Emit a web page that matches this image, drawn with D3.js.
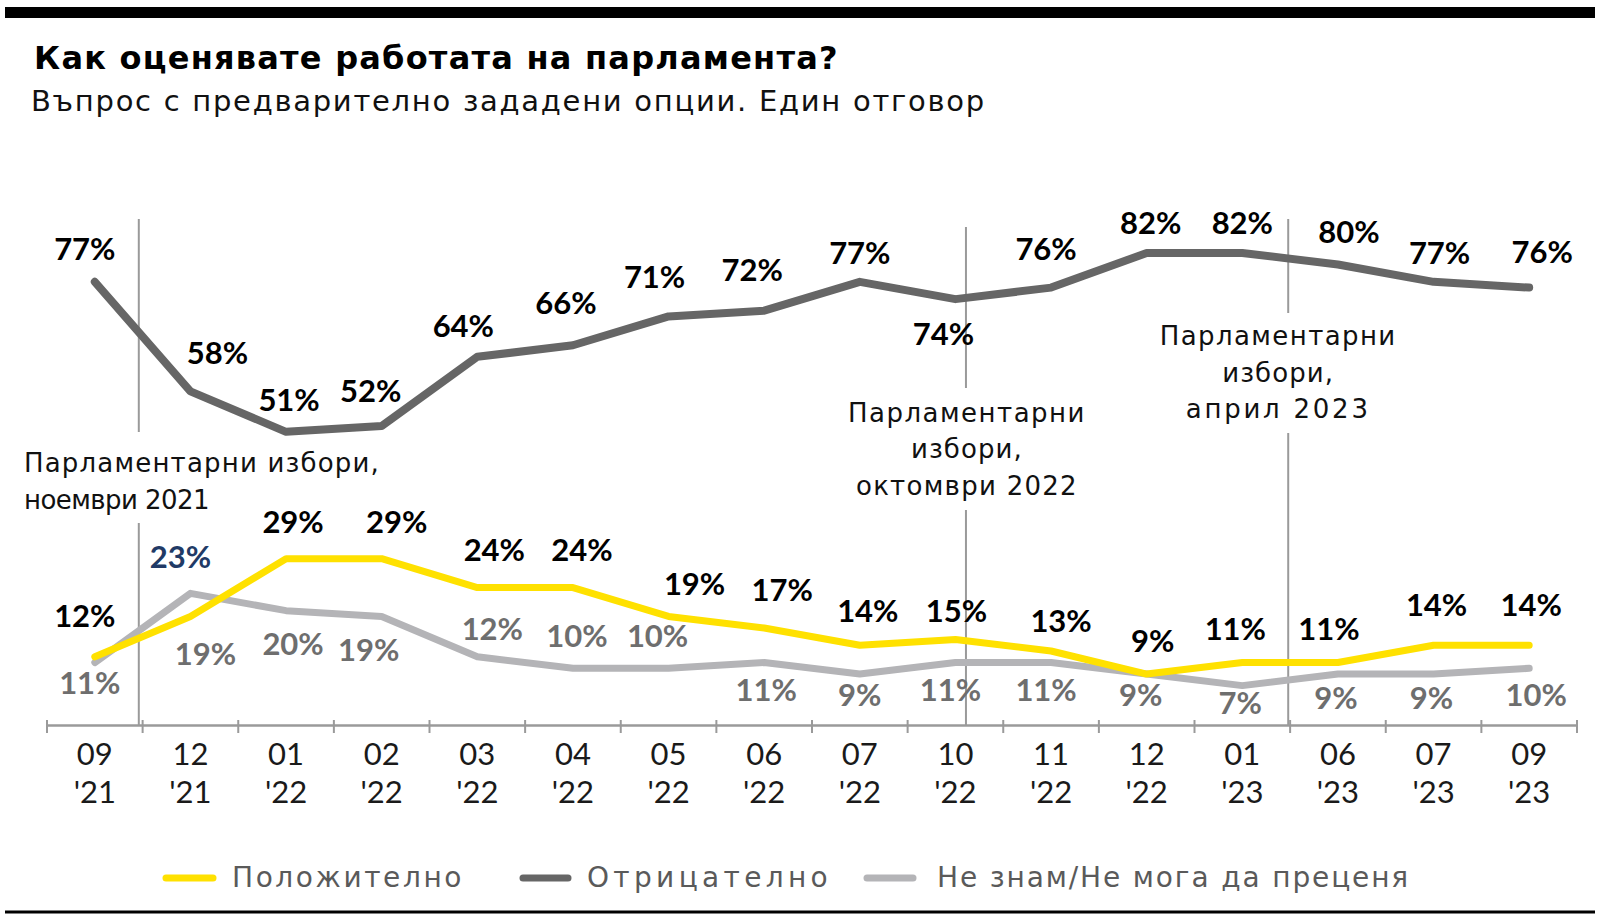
<!DOCTYPE html>
<html>
<head>
<meta charset="utf-8">
<script src="https://cdn.jsdelivr.net/npm/d3@7"></script>
<style>
  html, body { margin: 0; padding: 0; background: #fff; }
  svg { display: block; }
  text { font-family: Lato, "Noto Sans", sans-serif; }
  .wide { font-family: "DejaVu Sans", "Open Sans", sans-serif; }
</style>
</head>
<body>
<svg id="chart" width="1600" height="922"></svg>
<script>
// ---------- data ----------
const months = ["09", "12", "01", "02", "03", "04", "05", "06", "07", "10", "11", "12", "01", "06", "07", "09"];
const years  = ["'21", "'21", "'22", "'22", "'22", "'22", "'22", "'22", "'22", "'22", "'22", "'22", "'23", "'23", "'23", "'23"];

// line positions as drawn in the picture
const positive = [12, 19, 29, 29, 24, 24, 19, 17, 14, 15, 13, 9, 11, 11, 14, 14];
const negative = [77, 58, 51, 52, 64, 66, 71, 72, 77, 74, 76, 82, 82, 80, 77, 76];
const dontKnow = [11, 23, 20, 19, 12, 10, 10, 11, 9, 11, 11, 9, 7, 9, 9, 10];

// value labels as printed in the picture
const positiveLabels = [12, 23, 29, 29, 24, 24, 19, 17, 14, 15, 13, 9, 11, 11, 14, 14];
const negativeLabels = [77, 58, 51, 52, 64, 66, 71, 72, 77, 74, 76, 82, 82, 80, 77, 76];
const dontKnowLabels = [11, 19, 20, 19, 12, 10, 10, 11, 9, 11, 11, 9, 7, 9, 9, 10];

const seriesNames = ["Положително", "Отрицателно", "Не знам/Не мога да преценя"];

const titleText = "Как оценявате работата на парламента?";
const subtitleText = "Въпрос с предварително зададени опции. Един отговор";

// election annotations: band index + fraction of band where the rule sits
const elections = [
  { band: 0, frac: 0.96, lines: ["Парламентарни избори,", "ноември 2021"] },
  { band: 9, frac: 0.61, lines: ["Парламентарни", "избори,", "октомври 2022"] },
  { band: 12, frac: 0.98, lines: ["Парламентарни", "избори,", "април 2023"] }
];

// ---------- layout (label nudges relative to the point) ----------
const negNudge = [[-10,-22],[27,-27],[3,-21],[-11,-24],[-14,-20],[-7,-31],[-14,-28],[-12,-30],[0,-18],[-12,46],[-5,-28],[4,-19],[0,-19],[11,-22],[6,-18],[13,-25]];
const posNudge = [[-10,-30],[-10,-48],[7,-26],[15,-26],[17,-27],[9,-27],[26,-21],[18,-27],[8,-23],[1,-17],[10,-19],[6,-22],[-7,-23],[-9,-23],[3,-29],[2,-29]];
const dkNudge  = [[-5,31],[15,72],[7,44],[-13,45],[15,-17],[4,-21],[-11,-21],[2,38],[0,32],[-5,38],[-5,38],[-6,32],[-2,28],[-2,35],[-2,35],[7,38]];
const annLayout = [
  { anchor: "start", x: 24, baselines: [472, 509], gaps: [[219, 432], [523, 725]] },
  { anchor: "middle", dx: 1, baselines: [422, 458, 495], gaps: [[227, 388], [510, 725]] },
  { anchor: "middle", dx: -10, baselines: [345, 382, 418], gaps: [[219, 313], [433, 725]] }
];
// target widths of text runs in the reference (px)
const annWidths = [[356, 185], [238, 112, 222], [237, 112, 185]];

const colors = { pos: "#FFE100", neg: "#666666", dk: "#B4B4B7" };

// stretch/squeeze a text run to a target width using letter spacing
function fit(sel, target) {
  const node = sel.node();
  const len = node.getComputedTextLength();
  const n = sel.text().length;
  if (n > 1) sel.attr("letter-spacing", ((target - len) / n).toFixed(2));
  return sel;
}

// ---------- chart ----------
const svg = d3.select("#chart");
const idx = d3.range(months.length);

const x = d3.scaleBand().domain(idx).range([47, 1577]).paddingInner(0).paddingOuter(0);
const y = d3.scaleLinear().domain([0, 82]).range([726, 253]);
const cx = i => x(i) + x.bandwidth() / 2;
const axisY = 725;

// top bar & bottom rule
svg.append("rect").attr("x", 5).attr("y", 7).attr("width", 1590).attr("height", 11).attr("fill", "#000");
svg.append("line").attr("x1", 5).attr("x2", 1595).attr("y1", 912).attr("y2", 912)
  .attr("stroke", "#000").attr("stroke-width", 3);

// title
fit(svg.append("text").attr("class", "wide").attr("x", 34).attr("y", 69).text(titleText)
  .attr("font-size", 32).attr("font-weight", 700).attr("fill", "#000"), 805);
fit(svg.append("text").attr("class", "wide").attr("x", 31).attr("y", 111).text(subtitleText)
  .attr("font-size", 29).attr("font-weight", 400).attr("fill", "#111"), 955);

// axis
const axisG = svg.append("g").attr("transform", `translate(0,${axisY})`)
  .call(d3.axisBottom(x).tickSize(0).tickFormat(""));
axisG.select(".domain").attr("stroke", "#9a9a9a").attr("stroke-width", 2.5);
const bounds = idx.map(i => x(i)).concat([x(idx[idx.length - 1]) + x.bandwidth()]);
svg.append("g").selectAll("line").data(bounds).join("line")
  .attr("x1", d => d).attr("x2", d => d)
  .attr("y1", axisY - 5).attr("y2", axisY + 8)
  .attr("stroke", "#9a9a9a").attr("stroke-width", 2);

const tickG = svg.append("g");
tickG.selectAll("text.m").data(idx).join("text").attr("class", "m")
  .attr("x", i => cx(i)).attr("y", 765).attr("text-anchor", "middle")
  .attr("font-size", 31).attr("fill", "#1a1a1a").text(i => months[i]);
tickG.selectAll("text.yr").data(idx).join("text").attr("class", "yr")
  .attr("x", i => cx(i)).attr("y", 803).attr("text-anchor", "middle")
  .attr("font-size", 31).attr("fill", "#1a1a1a").text(i => years[i]);

// election rules + annotations
elections.forEach((e, k) => {
  const lx = x(e.band) + e.frac * x.bandwidth();
  const L = annLayout[k];
  L.gaps.forEach(g => {
    svg.append("line").attr("x1", lx).attr("x2", lx).attr("y1", g[0]).attr("y2", g[1])
      .attr("stroke", "#9a9a9a").attr("stroke-width", 2);
  });
  e.lines.forEach((t, j) => {
    const tx = svg.append("text").attr("class", "wide")
      .attr("x", L.anchor === "start" ? L.x : lx + L.dx)
      .attr("y", L.baselines[j])
      .attr("text-anchor", L.anchor)
      .attr("font-size", 26).attr("font-weight", 400).attr("fill", "#111")
      .text(t);
    fit(tx, annWidths[k][j]);
  });
});

// lines
const line = d3.line().x((d, i) => cx(i)).y(d => y(d));
function drawLine(vals, color, w) {
  svg.append("path").datum(vals).attr("d", line)
    .attr("fill", "none").attr("stroke", color).attr("stroke-width", w)
    .attr("stroke-linejoin", "round").attr("stroke-linecap", "round");
}
drawLine(negative, colors.neg, 8);
drawLine(dontKnow, colors.dk, 7);
drawLine(positive, colors.pos, 7);

// value labels
function drawLabels(vals, labels, nudge, colorFn) {
  svg.append("g").selectAll("text").data(idx).join("text")
    .attr("x", i => cx(i) + nudge[i][0])
    .attr("y", i => y(vals[i]) + nudge[i][1])
    .attr("text-anchor", "middle")
    .attr("font-size", 31).attr("font-weight", 700)
    .attr("fill", colorFn)
    .text(i => labels[i] + "%");
}
drawLabels(negative, negativeLabels, negNudge, () => "#000");
drawLabels(positive, positiveLabels, posNudge, i => (positiveLabels[i] !== positive[i] ? "#213a66" : "#000"));
drawLabels(dontKnow, dontKnowLabels, dkNudge, () => "#6e6e6e");

// legend
const legend = [
  { name: seriesNames[0], color: colors.pos, x1: 166, x2: 213, tx: 232, w: 232 },
  { name: seriesNames[1], color: colors.neg, x1: 523, x2: 568, tx: 587, w: 245 },
  { name: seriesNames[2], color: colors.dk, x1: 867, x2: 913, tx: 937, w: 473 }
];
const lg = svg.append("g");
legend.forEach(l => {
  lg.append("line").attr("x1", l.x1).attr("x2", l.x2).attr("y1", 878).attr("y2", 878)
    .attr("stroke", l.color).attr("stroke-width", 7).attr("stroke-linecap", "round");
  fit(lg.append("text").attr("class", "wide").attr("x", l.tx).attr("y", 887).attr("font-size", 28)
    .attr("font-weight", 400).attr("fill", "#5a5a5a").text(l.name), l.w);
});
</script>
</body>
</html>
